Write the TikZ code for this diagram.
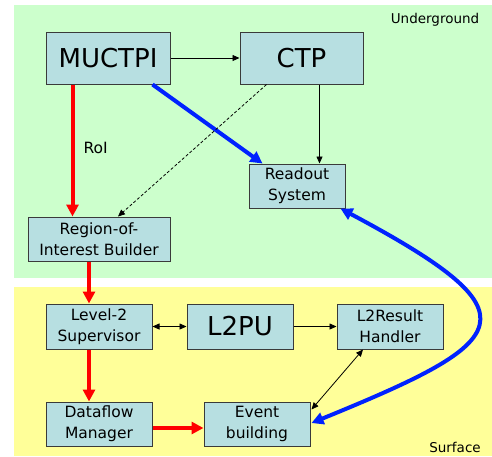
\documentclass[tikz,border=0pt]{standalone}
\usepackage{fontspec}
\setmainfont{DejaVu Sans}
\usetikzlibrary{arrows.meta,calc}
\definecolor{bggreen}{HTML}{CCFFCC}
\definecolor{bgyellow}{HTML}{FFFF99}
\definecolor{boxfill}{HTML}{B7DFE1}
\definecolor{boxline}{HTML}{3A3A3A}
\definecolor{flowblue}{HTML}{0022FF}
\definecolor{flowred}{HTML}{FF0000}
\begin{document}
\begin{tikzpicture}[x=1pt,y=-1pt,
  blk/.style={draw=boxline,line width=1pt,fill=boxfill,inner sep=0pt,align=center,font=\fontsize{15.5}{21}\selectfont},
  bigtxt/.style={font=\fontsize{26}{30}\selectfont},
  thin/.style={line width=0.8pt,-{Triangle[length=7pt,width=6pt]}},
  thinboth/.style={line width=0.8pt,{Triangle[length=7pt,width=6pt]}-{Triangle[length=7pt,width=6pt]}},
  redflow/.style={draw=flowred,line width=4pt,-{Triangle[length=12pt,width=12pt]}},
  blueflow/.style={draw=flowblue,line width=4pt,-{Triangle[length=12pt,width=12pt]}},
  lbl/.style={font=\fontsize{13.5}{16}\selectfont}]
\useasboundingbox (0,0) rectangle (492,456);
\fill[bggreen] (14,5) rectangle (492,278);
\fill[bgyellow] (14,287) rectangle (492,456);
\node[lbl] (ug) at (435,20) {Underground};
\node[lbl] (sf) at (455,447) {Surface};

\node[blk,bigtxt,minimum width=124pt,minimum height=52pt] (mu) at (108,58) {MUCTPI};
\node[blk,bigtxt,minimum width=123pt,minimum height=52pt] (ctp) at (301.5,58) {CTP};
\node[blk,minimum width=96pt,minimum height=44pt] (rs) at (297,186) {Readout\\System};
\node[blk,minimum width=142pt,minimum height=44pt] (roib) at (99,239) {Region-of-\\Interest Builder};
\node[blk,minimum width=106pt,minimum height=45pt] (l2s) at (99,326.5) {Level-2\\Supervisor};
\node[blk,bigtxt,minimum width=106pt,minimum height=45pt] (l2pu) at (240,326.5) {L2PU};
\node[blk,minimum width=106pt,minimum height=45pt] (l2r) at (390,326.5) {L2Result\\Handler};
\node[blk,minimum width=106pt,minimum height=44pt] (dfm) at (99,424) {Dataflow\\Manager};
\node[blk,minimum width=106pt,minimum height=44pt] (eb) at (257,424) {Event\\building};

\node[font=\fontsize{15.5}{18}\selectfont,anchor=west] (roilbl) at (80,148) {RoI};

% connectors
\draw[thin] (mu.east) -- (ctp.west);
\coordinate (r1) at ($(mu.south west)+(27,0)$);
\draw[redflow] (r1) -- (r1 |- roib.north);
\draw[blueflow] ($(mu.south east)+(-18,0)$) -- ($(rs.north west)+(14,0)$);
\draw[line width=0.8pt,dashed,dash pattern=on 3pt off 2pt,-{Triangle[length=7pt,width=6pt]}] ($(ctp.south west)+(27,0)$) -- ($(roib.north)+(19,0)$);
\coordinate (c1) at ($(ctp.south east)+(-44,0)$);
\draw[thin] (c1) -- (c1 |- rs.north);
\coordinate (r2) at ($(l2s.north)+(-10,0)$);
\draw[redflow] (r2 |- roib.south) -- (r2);
\draw[thinboth] (l2s.east) -- (l2pu.west);
\draw[thin] (l2pu.east) -- (l2r.west);
\draw[thinboth] ($(l2r.south)+(-27,0)$) -- ($(eb.north east)+(1,8)$);
\coordinate (r3) at ($(dfm.north)+(-10,0)$);
\draw[redflow] (r3 |- l2s.south) -- (r3);
\coordinate (r4) at ($(dfm.east)+(0,4)$);
\draw[redflow] (r4) -- (r4 -| eb.west);
\draw[draw=flowblue,line width=4pt,{Triangle[length=12pt,width=12pt]}-{Triangle[length=12pt,width=12pt]}] ($(rs.south east)+(-5,0)$) .. controls (540,315) and (515,340) .. ($(eb.east)+(1,-1)$);
\end{tikzpicture}
\end{document}
